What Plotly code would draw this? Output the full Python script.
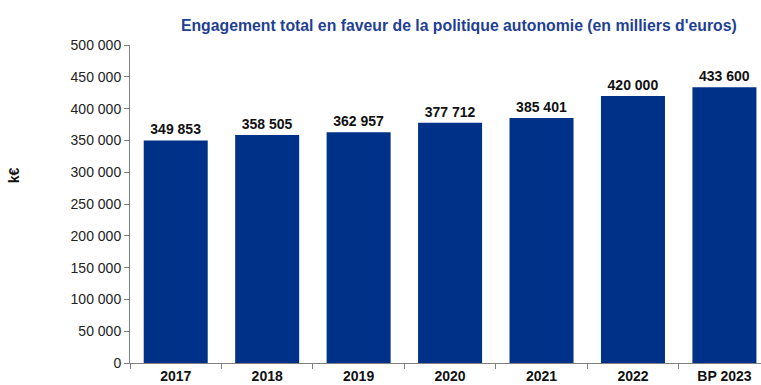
import plotly.graph_objects as go

categories = ["2017", "2018", "2019", "2020", "2021", "2022", "BP 2023"]
values = [349853, 358505, 362957, 377712, 385401, 420000, 433600]
y_ticks = [0, 50000, 100000, 150000, 200000, 250000, 300000, 350000, 400000, 450000, 500000]

labels = [f"{v:,}".replace(",", " ") for v in values]

fig = go.Figure(go.Bar(
    x=categories, y=values, width=0.7,
    marker=dict(color="#003189", line=dict(width=0)),
    text=labels, textposition="outside", cliponaxis=False,
    textfont=dict(family="Liberation Sans, Arial", size=14, color="#111111"),
))
fig.update_traces(texttemplate="<b>%{text}</b>")

fig.update_layout(
    width=761, height=385,
    margin=dict(l=130, r=0, t=45, b=22),
    paper_bgcolor="white", plot_bgcolor="white",
    separators=", ",
    showlegend=False,
    bargap=0.3,
    title=dict(text="<b>Engagement total en faveur de la politique autonomie (en milliers d'euros)</b>",
               x=0.603, xanchor="center", y=0.935, yanchor="middle",
               font=dict(family="Liberation Sans, Arial", size=15.8, color="#1F3F94")),
    annotations=[dict(text="<b>k€</b>", xref="paper", yref="paper", x=-0.184, y=0.59,
                      xanchor="center", yanchor="middle",
                      showarrow=False, textangle=-90,
                      font=dict(family="Liberation Sans", size=14, color="#111111"))],
)

fig.update_xaxes(
    type="category", range=[-0.5, 6.4],
    showline=True, linecolor="#808080", linewidth=1,
    ticks="outside", ticklen=5, tickcolor="#808080", tickson="boundaries",
    tickfont=dict(family="Liberation Sans", size=14, color="#111111"),
    tickprefix="<b>", ticksuffix="</b>",
)
fig.update_yaxes(
    range=[0, 500000], tickvals=y_ticks, tickformat=",d",
    showline=True, linecolor="#808080", linewidth=1,
    ticks="outside", ticklen=5, tickcolor="#808080",
    showgrid=False, zeroline=False,
    tickfont=dict(family="Liberation Sans", size=14, color="#222222"),
)

fig.write_html("out.html")
